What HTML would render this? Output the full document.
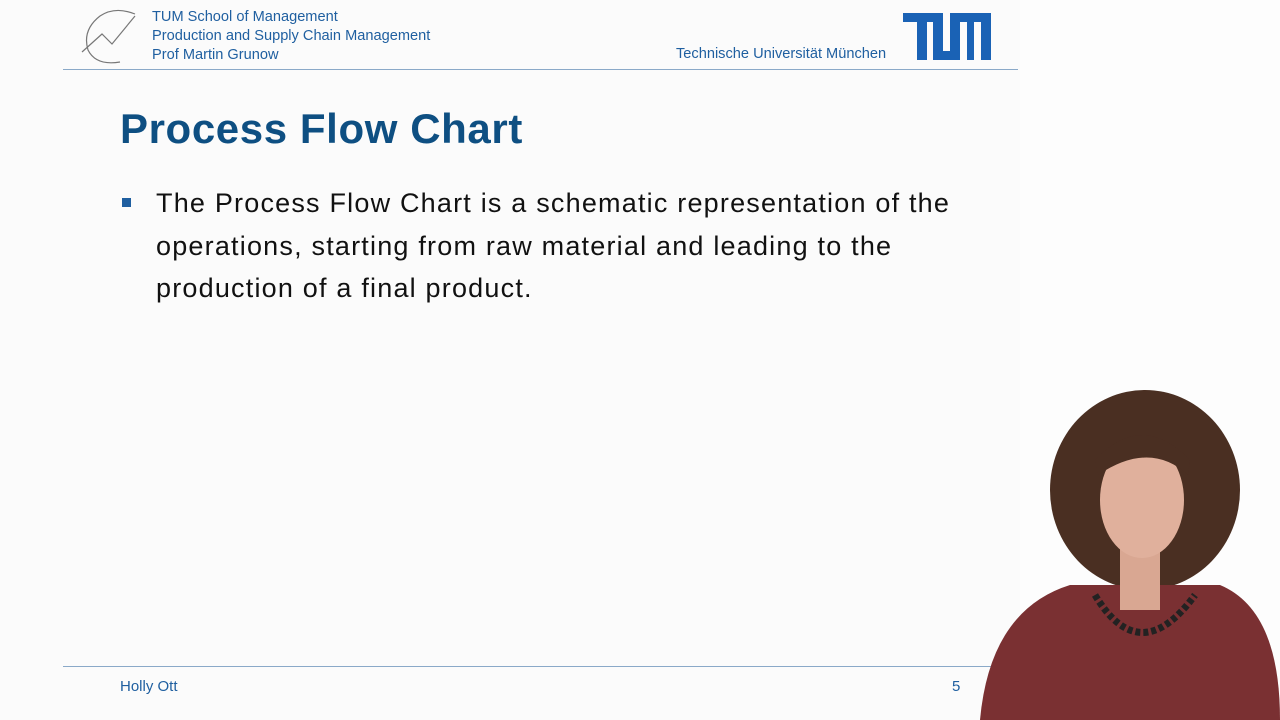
<!DOCTYPE html>
<html><head><meta charset="utf-8"><style>
body{margin:0;width:1280px;height:720px;overflow:hidden;background:#fdfdfd;font-family:"Liberation Sans",sans-serif;position:relative}
.a{position:absolute;white-space:nowrap}
.hd{color:#1f5fa0;font-size:14.6px;line-height:19px}
</style></head><body>
<div class="a" style="left:0;top:0;width:1020px;height:720px;background:#fbfbfb"></div>
<svg class="a" style="left:80px;top:8px" width="60" height="58"><path d="M55 6 Q35 -2 20 8 Q2 22 8 42 Q16 58 40 54" fill="none" stroke="#777" stroke-width="1.2"/><path d="M2 44 L22 26 L32 36 L55 8" fill="none" stroke="#777" stroke-width="1.2"/></svg>
<div class="a hd" style="left:152px;top:8px">TUM School of Management<br>Production and Supply Chain Management<br>Prof Martin Grunow</div>
<div class="a hd" style="left:676px;top:45px">Technische Universität München</div>
<svg class="a" style="left:903px;top:13px" width="88" height="47"><rect width="88" height="47" fill="#1a62b5"/><rect x="0" y="9" width="14" height="38" fill="#fbfbfb"/><rect x="24" y="9" width="6" height="38" fill="#fbfbfb"/><rect x="40" y="0" width="7" height="38" fill="#fbfbfb"/><rect x="57" y="9" width="7" height="38" fill="#fbfbfb"/><rect x="71" y="9" width="7" height="38" fill="#fbfbfb"/></svg>
<div class="a" style="left:63px;top:69px;width:955px;height:1px;background:#8aa9c8"></div>
<div class="a" style="left:120px;top:105px;font-size:42px;letter-spacing:0.6px;font-weight:bold;color:#0e4f82">Process Flow Chart</div>
<div class="a" style="left:122px;top:198px;width:9px;height:9px;background:#1f5fa0"></div>
<div class="a" style="left:156px;top:182px;font-size:27px;letter-spacing:1.2px;line-height:42.5px;color:#111">The Process Flow Chart is a schematic representation of the<br>operations, starting from raw material and leading to the<br>production of a final product.</div>
<div class="a" style="left:63px;top:666px;width:955px;height:1px;background:#8aa9c8"></div>
<div class="a hd" style="left:120px;top:677px;font-size:15px">Holly Ott</div>
<div class="a hd" style="left:952px;top:677px;font-size:15px">5</div>
<svg class="a" style="left:960px;top:380px" width="320" height="340">
<ellipse cx="185" cy="110" rx="95" ry="100" fill="#4a2f22"/>
<path d="M20 340 Q30 230 110 205 L260 205 Q320 230 320 340Z" fill="#7a3032"/>
<rect x="160" y="160" width="40" height="70" fill="#d9a792"/>
<ellipse cx="182" cy="120" rx="42" ry="58" fill="#e0b09c"/>
<path d="M135 80 Q182 30 230 80 L228 95 Q190 60 138 95Z" fill="#4a2f22"/>
<path d="M135 215 Q180 290 235 215" fill="none" stroke="#222" stroke-width="7" stroke-dasharray="5 3"/>
</svg>
</body></html>
